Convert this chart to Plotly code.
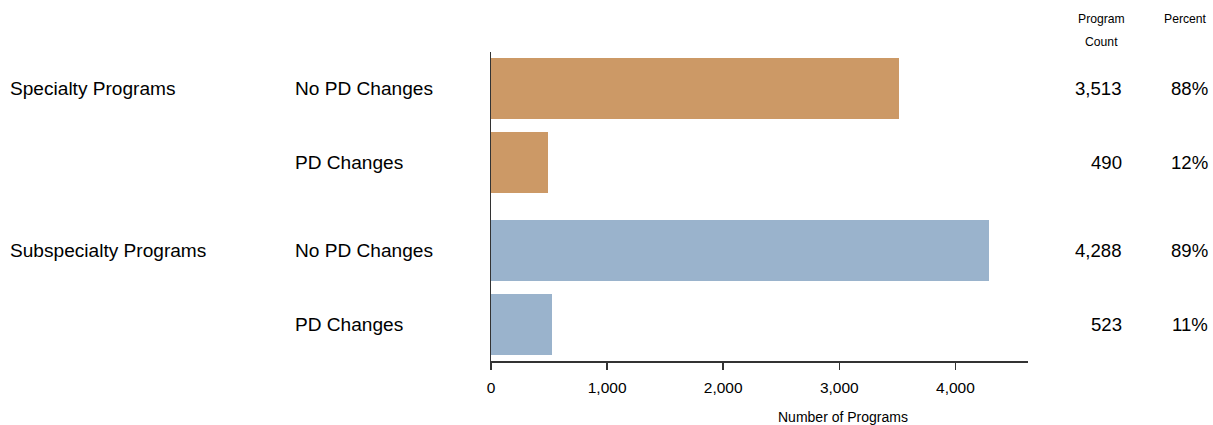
import plotly.graph_objects as go

groups = ["Specialty Programs", "Specialty Programs", "Subspecialty Programs", "Subspecialty Programs"]
subcats = ["No PD Changes", "PD Changes", "No PD Changes", "PD Changes"]
counts = [3513, 490, 4288, 523]
percents = ["88%", "12%", "89%", "11%"]
colors = ["#CC9966", "#CC9966", "#9AB3CC", "#9AB3CC"]
x_ticks = [0, 1000, 2000, 3000, 4000]
x_ticktext = ["0", "1,000", "2,000", "3,000", "4,000"]

# row positions: within-group spacing 1, extra gap between groups
group_gap = 0.19
ypos = []
prev = None
p = 0.0
for i, g in enumerate(groups):
    if i > 0:
        p += 1 + (group_gap if g != prev else 0)
    ypos.append(p)
    prev = g

FONT = "Arial, Liberation Sans, sans-serif"
FW, FH = 1213, 425

fig = go.Figure()
fig.add_trace(go.Bar(
    x=counts, y=ypos, orientation="h", width=0.83,
    marker=dict(color=colors, line=dict(width=0)),
    hoverinfo="skip", showlegend=False,
))

L, R = 491, 1028
W = R - L
def px_to_paper(px):
    return (px - L) / W

T, B = 52, 361
H = B - T
def py_to_paper(py):
    return 1 - (py - T) / H

LBL = 19.1
NUM = 18.6
ann = []
shown_groups = set()
for g, s, y, c, pc in zip(groups, subcats, ypos, counts, percents):
    if g not in shown_groups:
        shown_groups.add(g)
        ann.append(dict(x=px_to_paper(8), xref="paper", y=y, yref="y", text=g,
                        xanchor="left", yanchor="middle", showarrow=False,
                        font=dict(size=LBL, color="#000")))
    ann.append(dict(x=px_to_paper(293), xref="paper", y=y, yref="y", text=s,
                    xanchor="left", yanchor="middle", showarrow=False,
                    font=dict(size=LBL, color="#000")))
    ann.append(dict(x=px_to_paper(1124), xref="paper", y=y, yref="y", text=f"{c:,}",
                    xanchor="right", yanchor="middle", showarrow=False,
                    font=dict(size=NUM, color="#000")))
    ann.append(dict(x=px_to_paper(1210), xref="paper", y=y, yref="y", text=pc,
                    xanchor="right", yanchor="middle", showarrow=False,
                    font=dict(size=NUM, color="#000")))

ann += [
    dict(x=px_to_paper(1101), xref="paper", y=py_to_paper(19), yref="paper", text="Program",
         xanchor="center", yanchor="middle", showarrow=False, font=dict(size=12.2, color="#000")),
    dict(x=px_to_paper(1101), xref="paper", y=py_to_paper(41.5), yref="paper", text="Count",
         xanchor="center", yanchor="middle", showarrow=False, font=dict(size=12.2, color="#000")),
    dict(x=px_to_paper(1185), xref="paper", y=py_to_paper(19), yref="paper", text="Percent",
         xanchor="center", yanchor="middle", showarrow=False, font=dict(size=12.2, color="#000")),
    dict(x=px_to_paper(843), xref="paper", y=py_to_paper(417), yref="paper", text="Number of Programs",
         xanchor="center", yanchor="middle", showarrow=False, font=dict(size=14, color="#000")),
]

unit = 0.493
fig.update_layout(
    width=FW, height=FH,
    margin=dict(l=L, r=FW - R, t=T, b=FH - B, pad=0),
    paper_bgcolor="white", plot_bgcolor="white",
    font=dict(family=FONT, color="#000"),
    bargap=0,
    xaxis=dict(range=[0, W / 0.1161], tickvals=x_ticks, ticktext=x_ticktext,
               showgrid=False, zeroline=False, showline=True, linecolor="#333", linewidth=1.5,
               ticks="outside", ticklen=7, tickcolor="#333", tickwidth=1.5,
               ticklabelstandoff=5,
               tickfont=dict(size=15.5, color="#000"), fixedrange=True),
    yaxis=dict(range=[ypos[-1] + unit, ypos[0] - unit], showticklabels=False,
               showgrid=False, zeroline=False, showline=True, linecolor="#333", linewidth=1.5,
               ticks="", fixedrange=True),
    annotations=ann,
)

fig.write_html(
    "out.html",
    config={"displayModeBar": False, "staticPlot": True},
    post_script="document.body.style.margin='0';document.body.style.overflow='hidden';",
)
